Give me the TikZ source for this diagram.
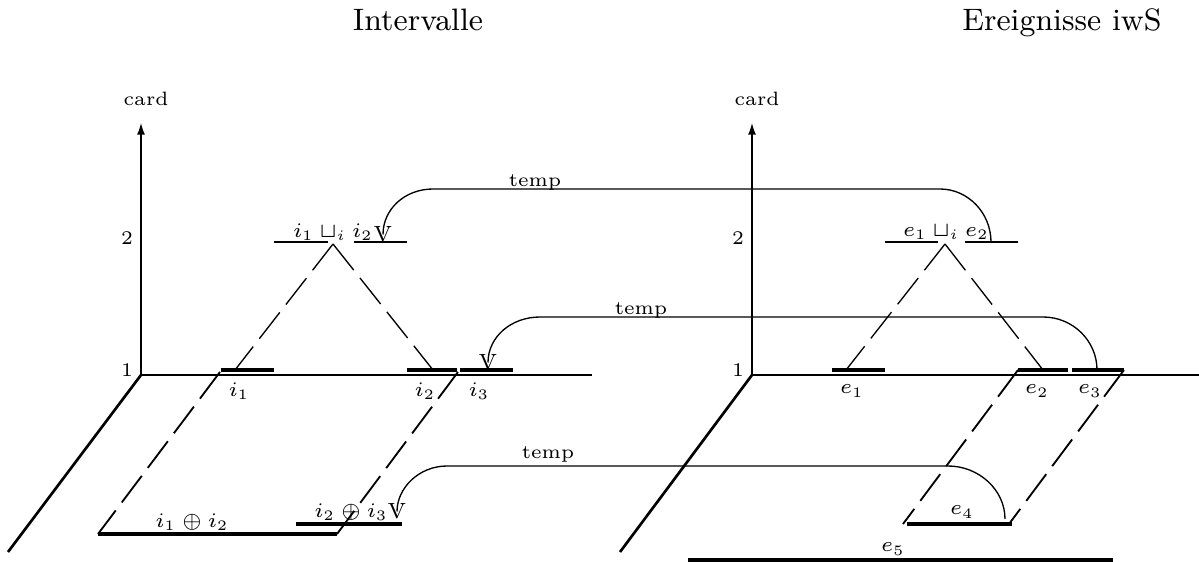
\RequirePackage{fix-cm}
\documentclass[tikz,border=0pt]{standalone}
\usetikzlibrary{arrows.meta}
\begin{document}
\begin{tikzpicture}[x=0.3pt,y=-0.3pt,
  thinln/.style={line width=0.4pt},
  bar/.style={line width=1pt},
  depth/.style={line width=0.8pt},
  dsh/.style={line width=0.4pt,dash pattern=on 10pt off 3pt},
  dshp/.style={line width=0.55pt,dash pattern=on 10pt off 3pt},
  axis/.style={line width=0.4pt,-{Latex[length=3.5pt,width=2.4pt]}},
  conn/.style={line width=0.4pt},
  lbl/.style={font=\fontsize{5.8}{6.5}\selectfont,inner sep=0pt},
  mlbl/.style={font=\fontsize{6.2}{7.5}\selectfont,inner sep=0pt},
  vmark/.style={font=\fontsize{6.6}{7.5}\selectfont,inner sep=0pt},
  title/.style={font=\fontsize{9.3}{11}\selectfont,inner sep=0pt,anchor=base}]
\useasboundingbox (0,0) rectangle (1199,562);

% titles
\node[title] (t1) at (418,31) {Intervalle};
\node[title] (t2) at (1062,31) {Ereignisse iwS};

% ---------- left panel: axes
\coordinate (O1) at (141,375);
\coordinate (Y1) at (141,123);
\coordinate (X1) at (592,375);
\coordinate (Z1) at (8,552);
\draw[axis] (O1) -- (Y1);
\draw[thinln] (O1) -- (X1);
\draw[depth] (O1) -- (Z1);
\node[lbl] (card1) at (146,99) {card};
\node[lbl] (twoA) at (127,238) {2};
\node[lbl] (oneA) at (127,370) {1};

% level 1 bars
\coordinate (i1a) at (221,370); \coordinate (i1b) at (274,370);
\coordinate (i2a) at (407,370); \coordinate (i2b) at (457,370);
\coordinate (i3a) at (460,370); \coordinate (i3b) at (513,370);
\draw[bar] (i1a) -- (i1b);
\draw[bar] (i2a) -- (i2b);
\draw[bar] (i3a) -- (i3b);
\node[mlbl] (li1) at (239,391) {$i_1$};
\node[mlbl] (li2) at (425,391) {$i_2$};
\node[mlbl] (li3) at (479,391) {$i_3$};

% level 2
\coordinate (s1a) at (274,242); \coordinate (s1b) at (328,242);
\coordinate (s1c) at (354,242); \coordinate (s1d) at (407,242);
\draw[thinln] (s1a) -- (s1b);
\draw[thinln] (s1c) -- (s1d);
\node[mlbl] (lsup1) at (333,232) {$i_1 \sqcup_i i_2$};
\coordinate (A1) at (333,244);
\coordinate (A1l) at (235,370);
\coordinate (A1r) at (433,370);
\draw[dsh] (A1) -- (A1l);
\draw[dsh] (A1) -- (A1r);
\node[vmark] (v1) at (383,234.5) {V};

% parallelogram (sums)
\coordinate (p1a) at (220,372); \coordinate (p1b) at (98,534);
\coordinate (p1c) at (458,372); \coordinate (p1d) at (337,534);
\draw[dshp] (p1a) -- (p1b);
\draw[dshp] (p1c) -- (p1d);
\coordinate (b12a) at (98,534); \coordinate (b12b) at (337,534);
\draw[bar] (b12a) -- (b12b);
\node[mlbl] (l12) at (192,522) {$i_1 \oplus i_2$};
\coordinate (b23a) at (296,524); \coordinate (b23b) at (402,524);
\draw[bar] (b23a) -- (b23b);
\node[mlbl] (l23) at (351,512) {$i_2 \oplus i_3$};
\node[vmark] (v3) at (397,511.5) {V};
\node[vmark] (v2) at (488,362.5) {V};

% ---------- right panel: axes
\coordinate (O2) at (752,375);
\coordinate (Y2) at (752,123);
\coordinate (X2) at (1199,375);
\coordinate (Z2) at (620,552);
\draw[axis] (O2) -- (Y2);
\draw[thinln] (O2) -- (X2);
\draw[depth] (O2) -- (Z2);
\node[lbl] (card2) at (757,99) {card};
\node[lbl] (twoB) at (738,238) {2};
\node[lbl] (oneB) at (738,370) {1};

\coordinate (e1a) at (832,370); \coordinate (e1b) at (885,370);
\coordinate (e2a) at (1018,370); \coordinate (e2b) at (1068,370);
\coordinate (e3a) at (1072,370); \coordinate (e3b) at (1124,370);
\draw[bar] (e1a) -- (e1b);
\draw[bar] (e2a) -- (e2b);
\draw[bar] (e3a) -- (e3b);
\node[mlbl] (le1) at (852,391) {$e_1$};
\node[mlbl] (le2) at (1037,391) {$e_2$};
\node[mlbl] (le3) at (1090,391) {$e_3$};

\coordinate (s2a) at (885,242); \coordinate (s2b) at (938,242);
\coordinate (s2c) at (965,242); \coordinate (s2d) at (1018,242);
\draw[thinln] (s2a) -- (s2b);
\draw[thinln] (s2c) -- (s2d);
\node[mlbl] (lsup2) at (946,232) {$e_1 \sqcup_i e_2$};
\coordinate (A2) at (945,244);
\coordinate (A2l) at (846,370);
\coordinate (A2r) at (1043,370);
\draw[dsh] (A2) -- (A2l);
\draw[dsh] (A2) -- (A2r);

\coordinate (p2b) at (903,524);
\coordinate (p2d) at (1009,524);
\draw[dshp] (e2a) -- (p2b);
\draw[dshp] (e3b) -- (p2d);
\coordinate (e4a) at (907,524); \coordinate (e4b) at (1012,524);
\draw[bar] (e4a) -- (e4b);
\node[mlbl] (le4) at (962,512) {$e_4$};
\coordinate (e5a) at (688,560); \coordinate (e5b) at (1113,560);
\draw[bar] (e5a) -- (e5b);
\node[mlbl] (le5) at (893,549) {$e_5$};

% ---------- temp connectors
\coordinate (c1s) at (991,242);
\coordinate (c1r) at (940,189);
\coordinate (c1l) at (433,189);
\draw[conn] (c1s) .. controls (991,213) and (968,189) .. (c1r) -- (c1l)
  .. controls (405,189) and (383,209) .. (v1.center);
\node[lbl] (temp1) at (535,182) {temp};

\coordinate (c2s) at (1097,370);
\coordinate (c2r) at (1043,317);
\coordinate (c2l) at (540,317);
\draw[conn] (c2s) .. controls (1097,341) and (1073,317) .. (c2r) -- (c2l)
  .. controls (511,317) and (488,337) .. (v2.center);
\node[lbl] (temp2) at (641,310) {temp};

\coordinate (c3s) at (1005,519);
\coordinate (c3r) at (948,466);
\coordinate (c3l) at (447,466);
\draw[conn] (c3s) .. controls (1005,490) and (979,466) .. (c3r) -- (c3l)
  .. controls (419,466) and (397,488) .. (v3.center);
\node[lbl] (temp3) at (548,454) {temp};
\end{tikzpicture}
\end{document}
